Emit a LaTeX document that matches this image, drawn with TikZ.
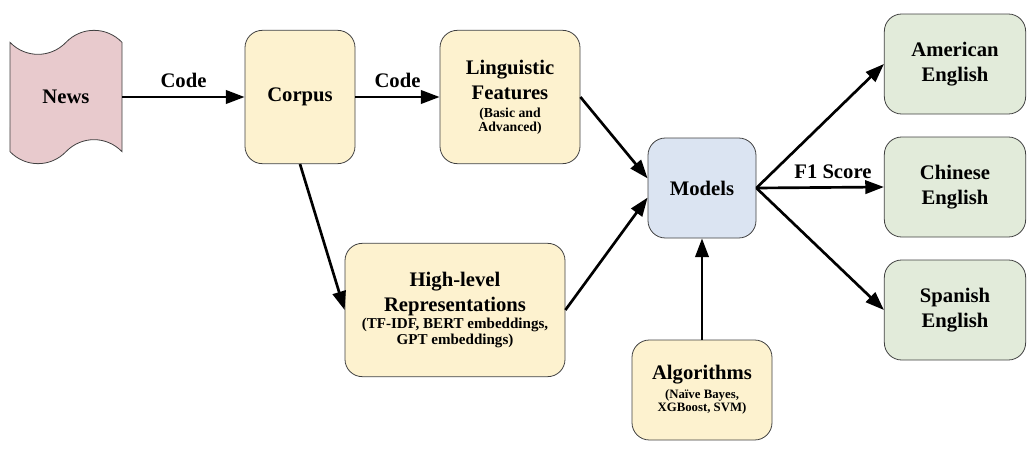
\documentclass[tikz,border=0pt]{standalone}
\usepackage{fontspec}
\setmainfont{Liberation Serif}
\usetikzlibrary{shapes.symbols,arrows.meta}

\definecolor{newspink}{RGB}{232,202,205}
\definecolor{stageyellow}{RGB}{253,242,207}
\definecolor{modelblue}{RGB}{219,228,242}
\definecolor{resultgreen}{RGB}{226,235,218}

\newcommand{\smalldetail}{\fontsize{10.3}{11}\selectfont}
\newcommand{\widedetail}{\fontsize{11.3}{12}\selectfont}
\newcommand{\tinydetail}{\fontsize{9.6}{10}\selectfont}

\begin{document}
\begin{tikzpicture}[x=0.75pt,y=-0.75pt]
        \tikzstyle{every node}=[font=\bfseries\fontsize{15.5}{19}\selectfont, align=center]
        \tikzstyle{box}=[draw=black!75, line width=0.6pt, rounded corners=13pt, inner sep=2pt]
        \tikzstyle{stage}=[box, fill=stageyellow]
        \tikzstyle{result}=[box, fill=resultgreen, minimum width=106pt, minimum height=75pt]
        \tikzstyle{flow}=[-{Triangle[length=14pt,width=10pt]}, line width=2pt]
        \useasboundingbox (0,0) rectangle (1036,450);

        % inputs and stages
        \node[tape, draw=black!75, line width=0.6pt, fill=newspink, tape bend height=18pt,
              minimum width=84pt, minimum height=100pt] (news) at (66,97) {News};
        \node[stage, minimum width=82.5pt, minimum height=100pt] (corpus) at (300,97) {Corpus};
        \node[stage, minimum width=105pt, minimum height=100pt] (ling) at (510,97)
            {Linguistic\\Features\\[-5.5pt]\smalldetail (Basic and\\[-9pt]\smalldetail Advanced)};
        \node[stage, minimum width=165pt, minimum height=100pt] (repr) at (455,310)
            {High-level\\Representations\\[-6pt]\widedetail (TF-IDF, BERT embeddings,\\[-7pt]\widedetail GPT embeddings)};
        \node[box, fill=modelblue, minimum width=81pt, minimum height=75pt] (models) at (702,188) {Models};
        \node[stage, minimum width=105pt, minimum height=75pt] (algo) at (702,390)
            {Algorithms\\[-5pt]\tinydetail (Naïve Bayes,\\[-9pt]\tinydetail XGBoost, SVM)};

        % outputs
        \node[result] (american) at (955,64) {American\\English};
        \node[result] (chinese) at (955,187) {Chinese\\English};
        \node[result] (spanish) at (955,310) {Spanish\\English};

        % connectors
        \draw[flow] (news.east) -- node[above=3pt] {Code} (corpus.west);
        \draw[flow] (corpus.east) -- node[above=3pt] {Code} (ling.west);
        \draw[flow] (corpus.south) -- (repr.west);
        \draw[flow] (ling.east) -- (models.170);
        \draw[flow] (repr.east) -- (models.190);
        \draw[flow] (algo.north) -- (models.south);
        \draw[flow] (models.east) -- (american.west);
        \draw[flow] (models.east) -- node[above=2pt, pos=0.6] {F1 Score} (chinese.west);
        \draw[flow] (models.east) -- (spanish.west);
\end{tikzpicture}
\end{document}
